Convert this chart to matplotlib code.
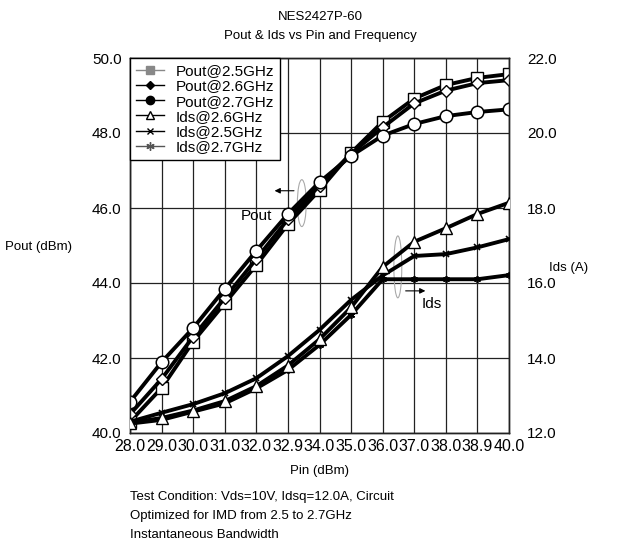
import matplotlib
matplotlib.use("Agg")
import matplotlib.pyplot as plt
from matplotlib.lines import Line2D
from matplotlib.patches import Ellipse

plt.rcParams['font.family'] = ['Liberation Sans', 'DejaVu Sans']

# Input power sweep (tick labels) and measured curves
pin_labels = ["28.0", "29.0", "30.0", "31.0", "32.0", "32.9", "34.0",
              "35.0", "36.0", "37.0", "38.0", "38.9", "40.0"]

pout_25 = [40.30, 41.20, 42.44, 43.46, 44.48, 45.57, 46.48, 47.47, 48.30, 48.92, 49.28, 49.47, 49.57]
pout_26 = [40.50, 41.44, 42.57, 43.60, 44.64, 45.70, 46.60, 47.45, 48.15, 48.79, 49.13, 49.33, 49.41]
pout_27 = [40.83, 41.89, 42.80, 43.84, 44.86, 45.84, 46.69, 47.39, 47.93, 48.24, 48.45, 48.56, 48.63]

ids_26 = [12.27, 12.40, 12.60, 12.85, 13.25, 13.80, 14.50, 15.35, 16.43, 17.10, 17.46, 17.84, 18.14]
ids_25 = [12.30, 12.54, 12.77, 13.06, 13.46, 14.05, 14.75, 15.55, 16.20, 16.72, 16.77, 16.95, 17.17]
ids_27 = [12.25, 12.35, 12.57, 12.79, 13.19, 13.68, 14.35, 15.15, 16.10, 16.10, 16.10, 16.10, 16.21]

W, H = 620, 542
fig = plt.figure(figsize=(W / 100, H / 100), dpi=100)
ax = fig.add_axes([130 / W, 1 - 433 / H, 379 / W, 375 / H])
ax2 = ax.twinx()

lw = 2.8
# Ids curves on the right axis
ax2.plot(pin_labels, ids_27, color='black', lw=lw, marker=(6, 2, 0), ms=5, mew=1.2, zorder=3)
ax2.plot(pin_labels, ids_25, color='black', lw=lw, marker='x', ms=5, mew=1.2, zorder=3)
ax2.plot(pin_labels, ids_26, color='black', lw=lw, marker='^', ms=9, mfc='white', mec='black', mew=1.0, zorder=4)

# Pout curves on the left axis
ax.plot(pin_labels, pout_25, color='black', lw=lw, marker='s', ms=8, mfc='white', mec='black', mew=1.0, zorder=3)
ax.plot(pin_labels, pout_26, color='black', lw=lw, marker='D', ms=6, mfc='white', mec='black', mew=1.0, zorder=3)
ax.plot(pin_labels, pout_27, color='black', lw=lw, marker='o', ms=9, mfc='white', mec='black', mew=1.1, zorder=3)

ax.set_xlim(0, len(pin_labels) - 1)
ax.set_ylim(40, 50)
ax2.set_ylim(12, 22)
left_ticks = [40, 42, 44, 46, 48, 50]
right_ticks = [12, 14, 16, 18, 20, 22]
ax.set_yticks(left_ticks)
ax.set_yticklabels([f"{v:.1f}" for v in left_ticks])
ax2.set_yticks(right_ticks)
ax2.set_yticklabels([f"{v:.1f}" for v in right_ticks])

ax.grid(True, color='#222222', lw=0.9)
ax.set_axisbelow(True)
ax.tick_params(axis='y', length=0, labelsize=11, pad=6)
ax.tick_params(axis='x', length=0, labelsize=11.5, pad=4)
ax2.tick_params(axis='y', length=0, labelsize=11, pad=13)
for a in (ax, ax2):
    for s in a.spines.values():
        s.set_linewidth(1.0)
        s.set_color('#222222')

# Pout / Ids callouts
ax.annotate('', xy=(4.49, 46.46), xytext=(5.28, 46.46),
            arrowprops=dict(arrowstyle='-|>', color='black', lw=0.8, mutation_scale=8))
ax.add_patch(Ellipse((5.44, 46.13), 0.28, 1.25, fill=False, ec='#aaaaaa', lw=0.8))
ax.text(3.5, 45.8, 'Pout', fontsize=11, va='center', ha='left')
ax2.annotate('', xy=(9.44, 15.79), xytext=(8.64, 15.79),
             arrowprops=dict(arrowstyle='-|>', color='black', lw=0.8, mutation_scale=8))
ax2.add_patch(Ellipse((8.48, 16.43), 0.25, 1.65, fill=False, ec='#aaaaaa', lw=0.8))
ax2.text(9.24, 15.44, 'Ids', fontsize=11, va='center', ha='left')

# Legend with filled marker glyphs
handles = [
    Line2D([], [], color='#888888', lw=1, marker='s', ms=6, mfc='#888888', mec='#888888'),
    Line2D([], [], color='black', lw=1, marker='D', ms=4, mfc='black', mec='black'),
    Line2D([], [], color='black', lw=1, marker='o', ms=6, mfc='black', mec='black'),
    Line2D([], [], color='black', lw=1, marker='^', ms=6, mfc='white', mec='black'),
    Line2D([], [], color='black', lw=1, marker='x', ms=5),
    Line2D([], [], color='#555555', lw=1, marker=(6, 2, 0), ms=6),
]
labels = ["Pout@2.5GHz", "Pout@2.6GHz", "Pout@2.7GHz",
          "Ids@2.6GHz", "Ids@2.5GHz", "Ids@2.7GHz"]
leg = ax2.legend(handles, labels, loc='upper left', bbox_to_anchor=(0, 1),
                 borderaxespad=0, fontsize=11, frameon=True, fancybox=False,
                 edgecolor='black', framealpha=1, handlelength=1.8,
                 handletextpad=0.8, labelspacing=0.08, borderpad=0.4)
leg.get_frame().set_linewidth(1.0)
leg.set_zorder(10)

fig.text(320 / W, 1 - 17 / H, 'NES2427P-60', ha='center', va='center', fontsize=9.5)
fig.text(320 / W, 1 - 36 / H, 'Pout & Ids vs Pin and Frequency', ha='center', va='center', fontsize=9.5)
fig.text(5 / W, 1 - 247 / H, 'Pout (dBm)', ha='left', va='center', fontsize=9.5)
fig.text(549 / W, 1 - 268 / H, 'Ids (A)', ha='left', va='center', fontsize=9.5)
fig.text(320 / W, 1 - 471 / H, 'Pin (dBm)', ha='center', va='center', fontsize=9.5)
notes = ["Test Condition: Vds=10V, Idsq=12.0A, Circuit",
         "Optimized for IMD from 2.5 to 2.7GHz",
         "Instantaneous Bandwidth"]
for i, line in enumerate(notes):
    fig.text(130 / W, 1 - (497 + 19 * i) / H, line, ha='left', va='center', fontsize=9.5)

fig.savefig('out.png', dpi=100)
